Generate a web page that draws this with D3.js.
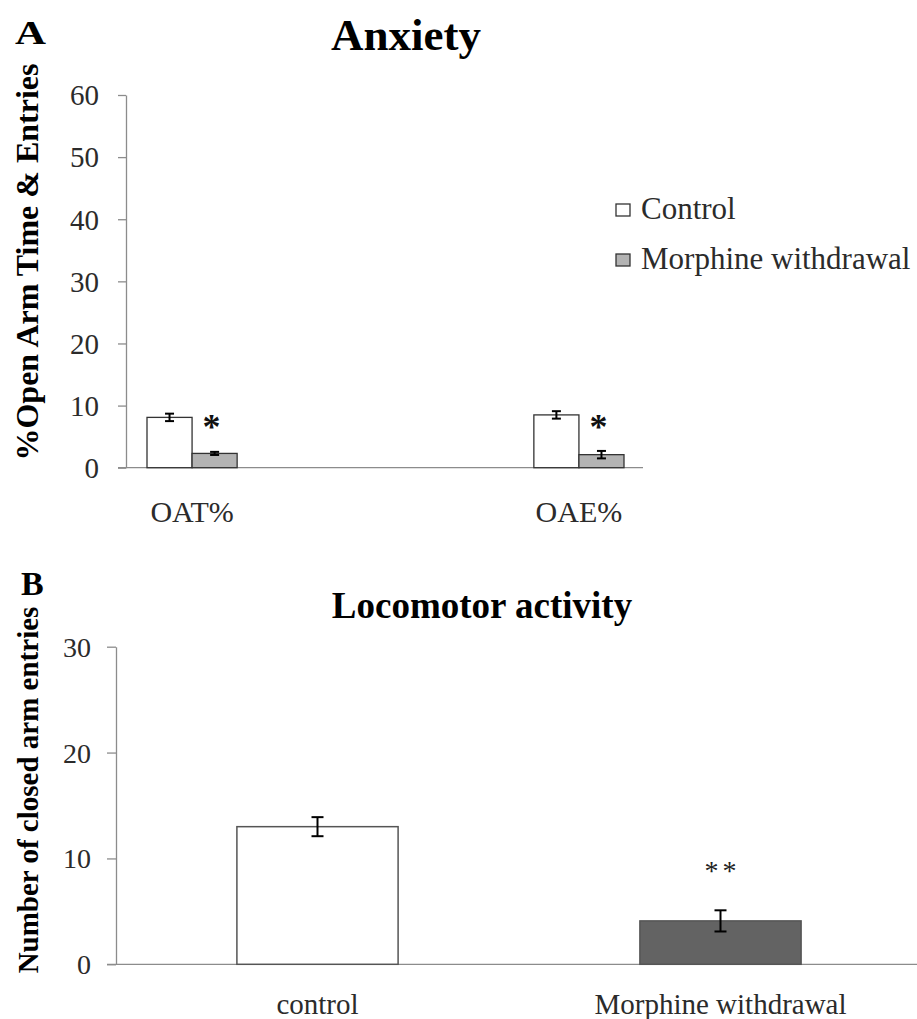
<!DOCTYPE html>
<html>
<head>
<meta charset="utf-8">
<script src="https://cdn.jsdelivr.net/npm/d3@7"></script>
<style>
  html, body { margin: 0; padding: 0; background: #fff; }
  svg { display: block; }
  text { font-family: "Liberation Serif", "Times New Roman", serif; }
</style>
</head>
<body>
<svg id="chart" width="917" height="1019"></svg>
<script>
// ---------- Data: Panel A (Anxiety) ----------
const categoriesA = ["OAT%", "OAE%"];
const seriesA = ["Control", "Morphine withdrawal"];
const controlA = [8.1, 8.5];
const controlErrA = [0.6, 0.6];
const morphineA = [2.3, 2.1];
const morphineErrA = [0.25, 0.6];
const sigA = ["*", "*"];
const ticksA = [0, 10, 20, 30, 40, 50, 60];

// ---------- Data: Panel B (Locomotor activity) ----------
const categoriesB = ["control", "Morphine withdrawal"];
const valuesB = [13.0, 4.1];
const errB = [0.9, 1.0];
const sigB = ["", "**"];
const ticksB = [0, 10, 20, 30];

const svg = d3.select("#chart");
const axisColor = "#8c8c8c";
const textColor = "#2b2b2b";

// ================= PANEL A =================
const gA = svg.append("g");
const yA = d3.scaleLinear().domain([0, 60]).range([467.7, 95]);
const xA = d3.scaleBand().domain(categoriesA).range([147, 624]).paddingInner(0.767).paddingOuter(0);
const xAs = d3.scaleBand().domain(seriesA).range([0, xA.bandwidth()]).padding(0);
const fillA = d3.scaleOrdinal().domain(seriesA).range(["#ffffff", "#b3b3b3"]);

// y axis
const axA = gA.append("g").attr("transform", "translate(126,0)")
  .call(d3.axisLeft(yA).tickValues(ticksA).tickSize(8).tickSizeOuter(0).tickPadding(19));
axA.select(".domain").attr("stroke", axisColor).attr("stroke-width", 1.3);
axA.selectAll(".tick line").attr("stroke", axisColor).attr("stroke-width", 1.3);
axA.selectAll(".tick text").attr("fill", textColor).attr("font-size", 29)
  .style("font-family", "'Liberation Serif', serif").attr("dy", "0.34em");

// x axis line
gA.append("line").attr("x1", 118).attr("x2", 643).attr("y1", yA(0)).attr("y2", yA(0))
  .attr("stroke", axisColor).attr("stroke-width", 1.3);

// bars
const rowsA = [];
categoriesA.forEach((c, i) => {
  rowsA.push({cat: c, s: seriesA[0], v: controlA[i], e: controlErrA[i]});
  rowsA.push({cat: c, s: seriesA[1], v: morphineA[i], e: morphineErrA[i]});
});
gA.selectAll("rect.bar").data(rowsA).join("rect").attr("class", "bar")
  .attr("x", d => xA(d.cat) + xAs(d.s))
  .attr("y", d => yA(d.v))
  .attr("width", xAs.bandwidth())
  .attr("height", d => yA(0) - yA(d.v))
  .attr("fill", d => fillA(d.s))
  .attr("stroke", "#333").attr("stroke-width", 1.3);

// error bars
const capA = 4.5;
const ebA = gA.selectAll("g.eb").data(rowsA).join("g").attr("class", "eb")
  .attr("stroke", "#000").attr("stroke-width", 2);
ebA.append("line")
  .attr("x1", d => xA(d.cat) + xAs(d.s) + xAs.bandwidth() / 2)
  .attr("x2", d => xA(d.cat) + xAs(d.s) + xAs.bandwidth() / 2)
  .attr("y1", d => yA(d.v + d.e)).attr("y2", d => yA(d.v - d.e));
ebA.append("line")
  .attr("x1", d => xA(d.cat) + xAs(d.s) + xAs.bandwidth() / 2 - capA)
  .attr("x2", d => xA(d.cat) + xAs(d.s) + xAs.bandwidth() / 2 + capA)
  .attr("y1", d => yA(d.v + d.e)).attr("y2", d => yA(d.v + d.e));
ebA.append("line")
  .attr("x1", d => xA(d.cat) + xAs(d.s) + xAs.bandwidth() / 2 - capA)
  .attr("x2", d => xA(d.cat) + xAs(d.s) + xAs.bandwidth() / 2 + capA)
  .attr("y1", d => yA(d.v - d.e)).attr("y2", d => yA(d.v - d.e));

// significance asterisks
gA.selectAll("text.sig").data(categoriesA).join("text").attr("class", "sig")
  .attr("x", (c) => xA(c) + xAs(seriesA[1]) + xAs.bandwidth() / 2 - 3)
  .attr("y", yA(4.6))
  .attr("text-anchor", "middle").attr("font-weight", "bold").attr("font-size", 36)
  .attr("fill", "#111")
  .text((c, i) => sigA[i]);

// category labels
gA.selectAll("text.cat").data(categoriesA).join("text").attr("class", "cat")
  .attr("x", c => xA(c) + xA.bandwidth() / 2)
  .attr("y", 522)
  .attr("text-anchor", "middle").attr("font-size", 30).attr("fill", textColor)
  .text(c => c);

// title + panel letter
gA.append("text").attr("x", 406).attr("y", 50).attr("text-anchor", "middle")
  .attr("font-weight", "bold").attr("font-size", 45).attr("fill", "#000").text("Anxiety");
gA.append("text").attr("transform", "translate(15,44) scale(1.3,1)")
  .attr("font-weight", "bold").attr("font-size", 33).attr("fill", "#000").text("A");

// y label
gA.append("text").attr("transform", "translate(38,262) rotate(-90)")
  .attr("text-anchor", "middle").attr("font-weight", "bold").attr("font-size", 32)
  .attr("fill", "#000").text("%Open Arm Time & Entries");

// legend
const legA = gA.selectAll("g.leg").data(seriesA).join("g").attr("class", "leg")
  .attr("transform", (d, i) => `translate(616,${219 + i * 50})`);
legA.append("rect").attr("x", 0).attr("y", -15).attr("width", 14).attr("height", 12)
  .attr("fill", d => fillA(d)).attr("stroke", "#333").attr("stroke-width", 1.3);
legA.append("text").attr("x", 25).attr("y", 0).attr("font-size", 31).attr("fill", textColor)
  .text(d => d);

// ================= PANEL B =================
const gB = svg.append("g");
const yB = d3.scaleLinear().domain([0, 30]).range([964.3, 646.7]);
const xB = d3.scaleBand().domain(categoriesB).range([116, 922]).paddingInner(0.6).paddingOuter(0.3);
const fillB = d3.scaleOrdinal().domain(categoriesB).range(["#ffffff", "#636363"]);

const axB = gB.append("g").attr("transform", "translate(116,0)")
  .call(d3.axisLeft(yB).tickValues(ticksB).tickSize(9).tickSizeOuter(0).tickPadding(16));
axB.select(".domain").attr("stroke", axisColor).attr("stroke-width", 1.3);
axB.selectAll(".tick line").attr("stroke", axisColor).attr("stroke-width", 1.3);
axB.selectAll(".tick text").attr("fill", textColor).attr("font-size", 28)
  .style("font-family", "'Liberation Serif', serif").attr("dy", "0.34em");

gB.append("line").attr("x1", 107).attr("x2", 917).attr("y1", yB(0)).attr("y2", yB(0))
  .attr("stroke", axisColor).attr("stroke-width", 1.3);

const rowsB = categoriesB.map((c, i) => ({cat: c, v: valuesB[i], e: errB[i], sig: sigB[i]}));
gB.selectAll("rect.bar").data(rowsB).join("rect").attr("class", "bar")
  .attr("x", d => xB(d.cat)).attr("y", d => yB(d.v))
  .attr("width", xB.bandwidth()).attr("height", d => yB(0) - yB(d.v))
  .attr("fill", d => fillB(d.cat)).attr("stroke", "#555").attr("stroke-width", 1.5);

const capB = 6;
const ebB = gB.selectAll("g.eb").data(rowsB).join("g").attr("class", "eb")
  .attr("stroke", "#000").attr("stroke-width", 2);
ebB.append("line")
  .attr("x1", d => xB(d.cat) + xB.bandwidth() / 2).attr("x2", d => xB(d.cat) + xB.bandwidth() / 2)
  .attr("y1", d => yB(d.v + d.e)).attr("y2", d => yB(d.v - d.e));
ebB.append("line")
  .attr("x1", d => xB(d.cat) + xB.bandwidth() / 2 - capB).attr("x2", d => xB(d.cat) + xB.bandwidth() / 2 + capB)
  .attr("y1", d => yB(d.v + d.e)).attr("y2", d => yB(d.v + d.e));
ebB.append("line")
  .attr("x1", d => xB(d.cat) + xB.bandwidth() / 2 - capB).attr("x2", d => xB(d.cat) + xB.bandwidth() / 2 + capB)
  .attr("y1", d => yB(d.v - d.e)).attr("y2", d => yB(d.v - d.e));

gB.selectAll("text.sig").data(rowsB).join("text").attr("class", "sig")
  .attr("x", d => xB(d.cat) + xB.bandwidth() / 2 + 2)
  .attr("y", yB(8.0))
  .attr("text-anchor", "middle").attr("font-size", 28).attr("letter-spacing", 4)
  .attr("fill", "#222").text(d => d.sig);

gB.selectAll("text.cat").data(categoriesB).join("text").attr("class", "cat")
  .attr("x", c => xB(c) + xB.bandwidth() / 2).attr("y", 1014)
  .attr("text-anchor", "middle").attr("font-size", 29).attr("fill", textColor)
  .text(c => c);

gB.append("text").attr("x", 482).attr("y", 618).attr("text-anchor", "middle")
  .attr("font-weight", "bold").attr("font-size", 37).attr("fill", "#000").text("Locomotor activity");
gB.append("text").attr("x", 21).attr("y", 595)
  .attr("font-weight", "bold").attr("font-size", 34).attr("fill", "#000").text("B");

gB.append("text").attr("transform", "translate(38,790) rotate(-90)")
  .attr("text-anchor", "middle").attr("font-weight", "bold").attr("font-size", 29)
  .attr("fill", "#000").text("Number of closed arm entries");
</script>
</body>
</html>
